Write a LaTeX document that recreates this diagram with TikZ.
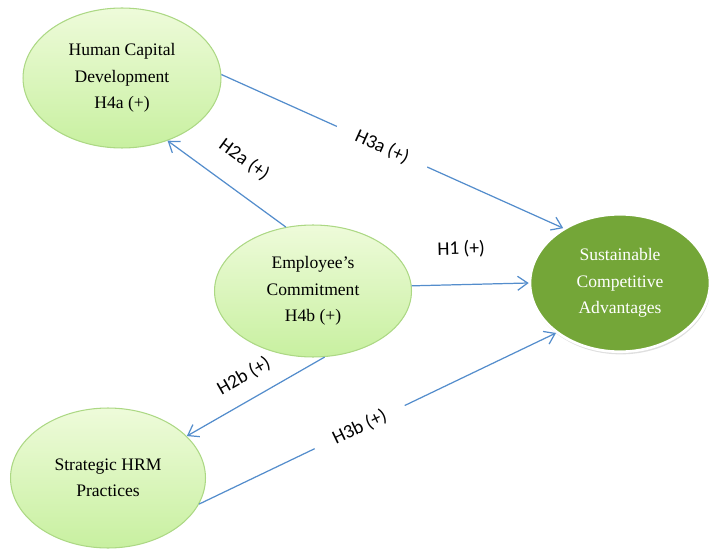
\documentclass[tikz,border=0pt]{standalone}
\usepackage{fontspec}
\setmainfont{Liberation Serif}
\newfontfamily\lblfont{Carlito}
\usepackage{tikz}
\usetikzlibrary{arrows.meta,positioning,shapes.geometric,shadows}
\definecolor{paleleaf}{RGB}{238,251,218}
\definecolor{leaf}{RGB}{200,240,160}
\definecolor{leafedge}{RGB}{172,216,132}
\definecolor{olivefill}{RGB}{116,166,56}
\definecolor{linkblue}{RGB}{84,141,204}

\begin{document}
\begin{tikzpicture}[x=0.02cm,y=0.02cm,
    construct/.style={ellipse, draw=leafedge, line width=0.6pt, top color=paleleaf,
        bottom color=leaf, align=center, inner sep=0pt, font=\fontsize{10}{15}\selectfont},
    outcome/.style={ellipse, draw=white, line width=1.5pt, fill=olivefill, text=white,
        align=center, inner sep=0pt, font=\fontsize{10}{15}\selectfont,
        drop shadow={opacity=0.25, shadow xshift=0.5pt, shadow yshift=-1.5pt}},
    link/.style={-{Straight Barb[length=2mm,width=2.8mm]}, linkblue, line width=0.7pt},
    hyp/.style={font=\lblfont\fontsize{11}{13}\selectfont, text=black, sloped},
    hypgap/.style={hyp, fill=white, inner xsep=0.42cm}]
    \useasboundingbox (0,0) rectangle (709,548);

    % Constructs
    \node[construct, minimum width=3.96cm, minimum height=2.8cm] (hcd) at (122,470)
        {Human Capital\\Development\\H4a (+)};
    \node[construct, minimum width=3.94cm, minimum height=2.64cm] (emp) at (313,257)
        {Employee's\\Commitment\\H4b (+)};
    \node[construct, minimum width=3.9cm, minimum height=2.8cm] (shr) at (108,70)
        {Strategic HRM\\Practices};
    \node[outcome, minimum width=3.6cm, minimum height=2.75cm] (sca) at (620,265)
        {Sustainable\\Competitive\\Advantages};

    % Hypotheses
    \draw[link] (hcd.2) -- node[hypgap, pos=0.47] {H3a (+)} (sca.136);
    \draw[link] (emp.113) -- node[hyp, above=0.3cm] {H2a (+)} (hcd.-54);
    \draw[link] (emp.3) -- node[hyp, pos=0.43, above=0.42cm] {H1 (+)} (sca.180);
    \draw[link] (emp.-80) -- node[hyp, above=0.18cm] {H2b (+)} (shr.28);
    \draw[link] (shr.-16) -- node[hypgap, pos=0.45] {H3b (+)} (sca.-142);
\end{tikzpicture}
\end{document}
